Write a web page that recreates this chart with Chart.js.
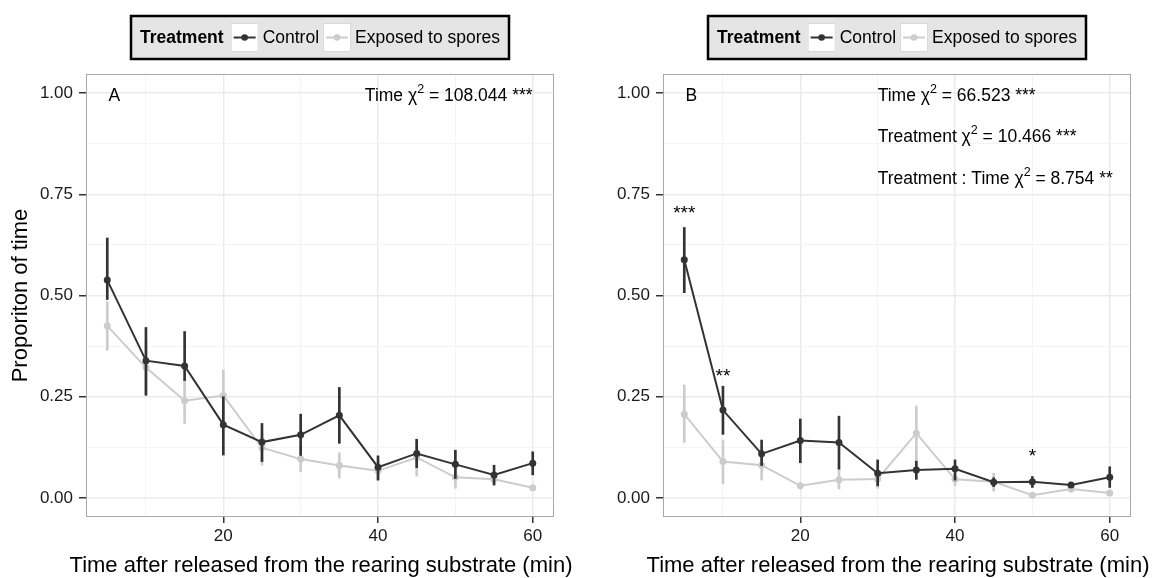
<!DOCTYPE html>
<html>
<head>
<meta charset="utf-8">
<title>Proportion of time after release</title>
<script src="https://cdn.jsdelivr.net/npm/chart.js@4.4.1/dist/chart.umd.min.js"></script>
<style>
  html, body { margin: 0; padding: 0; background: #fff; }
  #wrap { display: flex; width: 1154px; height: 578px; }
  canvas { display: block; }
</style>
</head>
<body>
<div id="wrap">
  <canvas id="panelA" width="577" height="578"></canvas>
  <canvas id="panelB" width="577" height="578"></canvas>
</div>
<script>
// sampling times (min)
const minutes = [5, 10, 15, 20, 25, 30, 35, 40, 45, 50, 55, 60];

// panel A
const ctrlA     = [0.538, 0.339, 0.326, 0.181, 0.138, 0.156, 0.204, 0.076, 0.110, 0.083, 0.057, 0.086];
const ctrlALow  = [0.490, 0.254, 0.290, 0.106, 0.090, 0.105, 0.135, 0.044, 0.075, 0.048, 0.032, 0.057];
const ctrlAHigh = [0.642, 0.421, 0.411, 0.250, 0.184, 0.207, 0.273, 0.104, 0.145, 0.118, 0.081, 0.114];
const sporeA     = [0.425, 0.322, 0.240, 0.253, 0.124, 0.096, 0.080, 0.067, 0.100, 0.051, 0.046, 0.025];
const sporeALow  = [0.365, 0.252, 0.184, 0.184, 0.081, 0.065, 0.049, 0.045, 0.054, 0.024, 0.032, 0.020];
const sporeAHigh = [0.485, 0.390, 0.296, 0.316, 0.160, 0.130, 0.112, 0.090, 0.145, 0.078, 0.060, 0.030];

// panel B
const ctrlB     = [0.588, 0.217, 0.109, 0.142, 0.137, 0.061, 0.069, 0.072, 0.039, 0.040, 0.032, 0.051];
const ctrlBLow  = [0.507, 0.157, 0.080, 0.087, 0.071, 0.030, 0.046, 0.044, 0.028, 0.026, 0.027, 0.026];
const ctrlBHigh = [0.668, 0.276, 0.143, 0.195, 0.202, 0.094, 0.091, 0.094, 0.050, 0.053, 0.037, 0.077];
const sporeB     = [0.207, 0.090, 0.081, 0.030, 0.045, 0.047, 0.160, 0.046, 0.040, 0.007, 0.022, 0.012];
const sporeBLow  = [0.137, 0.035, 0.044, 0.025, 0.022, 0.024, 0.093, 0.030, 0.017, 0.005, 0.014, 0.009];
const sporeBHigh = [0.279, 0.143, 0.118, 0.035, 0.070, 0.070, 0.227, 0.062, 0.061, 0.010, 0.030, 0.015];

// axis breaks
const xMajor = [20, 40, 60];
const xMinor = [10, 30, 50];
const yMajor = [0, 0.25, 0.5, 0.75, 1];
const yMinor = [0.125, 0.375, 0.625, 0.875];

// model test results printed in each panel
const statsA = [{ term: 'Time', chi: '108.044', stars: '***' }];
const statsB = [
  { term: 'Time', chi: '66.523', stars: '***' },
  { term: 'Treatment', chi: '10.466', stars: '***' },
  { term: 'Treatment : Time', chi: '8.754', stars: '**' }
];
const statsAx = 38.3;
const statsBx = 30;
const statsY = [0.981, 0.878, 0.775];

// pairwise differences per time point (panel B)
const sigB = [
  { x: 5, y: 0.689, label: '***' },
  { x: 10, y: 0.287, label: '**' },
  { x: 50, y: 0.089, label: '*' }
];

const X_TITLE = 'Time after released from the rearing substrate (min)';
const FONT = "'Liberation Sans', Arial, Helvetica, sans-serif";
const DARK = '#333333';
const LIGHT = '#cccccc';
const TEXT = '#1a1a1a';

Chart.defaults.font.family = FONT;
Chart.defaults.color = TEXT;

const toXY = vals => minutes.map((m, i) => ({ x: m, y: vals[i] }));
const toRange = (lo, hi) => minutes.map((m, i) => ({ x: m, y: [lo[i], hi[i]] }));

function drawStat(ctx, x, y, s) {
    let cx = x;
    const put = (txt, size, dy) => {
        ctx.font = `${size}px ${FONT}`;
        ctx.fillText(txt, cx, y + dy);
        cx += ctx.measureText(txt).width;
    };
    put(s.term + ' ', 17.5, 0);
    put('\u03C7', 17.5, 0);
    put('2', 12.5, -8);
    put(' = ' + s.chi + ' ' + s.stars, 17.5, 0);
}

function drawLegend(ctx, centerX) {
    const top = 16, h = 43, midY = top + h / 2;
    const items = [{ label: 'Control', color: DARK }, { label: 'Exposed to spores', color: LIGHT }];

    ctx.font = `bold 17.5px ${FONT}`;
    const titleW = ctx.measureText('Treatment').width;
    ctx.font = `17.5px ${FONT}`;
    const widths = items.map(it => ctx.measureText(it.label).width);
    const keyW = 28, pad = 9;
    const total = pad + titleW + 7 + widths.reduce((a, w) => a + keyW + 4 + w + 4, 0) - 4 + pad;
    const left = Math.round(centerX - total / 2);

    ctx.fillStyle = '#e5e5e5';
    ctx.fillRect(left, top, total, h);
    ctx.lineWidth = 2.5;
    ctx.strokeStyle = '#000';
    ctx.strokeRect(left, top, total, h);

    ctx.textBaseline = 'middle';
    ctx.textAlign = 'left';
    ctx.fillStyle = '#000';
    ctx.font = `bold 17.5px ${FONT}`;
    ctx.fillText('Treatment', left + pad, midY + 1);

    let x = left + pad + titleW + 7;
    items.forEach((it, i) => {
        ctx.fillStyle = '#fff';
        ctx.fillRect(x, top + 7, keyW, h - 14);
        ctx.lineWidth = 1;
        ctx.strokeStyle = '#d9d9d9';
        ctx.strokeRect(x + 0.5, top + 7.5, keyW - 1, h - 15);
        ctx.strokeStyle = it.color;
        ctx.lineWidth = 2;
        ctx.beginPath();
        ctx.moveTo(x + 3, midY);
        ctx.lineTo(x + keyW - 3, midY);
        ctx.stroke();
        ctx.fillStyle = it.color;
        ctx.beginPath();
        ctx.arc(x + keyW / 2, midY, 3.3, 0, Math.PI * 2);
        ctx.fill();
        x += keyW + 4;
        ctx.fillStyle = '#000';
        ctx.font = `17.5px ${FONT}`;
        ctx.fillText(it.label, x, midY + 1);
        x += widths[i] + 4;
    });
}

const panelDecor = {
    id: 'panelDecor',
    afterDraw(chart, args, opts) {
        const { ctx, chartArea: a, scales: { x, y } } = chart;
        ctx.save();

        // panel frame
        ctx.strokeStyle = '#a8a8a8';
        ctx.lineWidth = 1;
        ctx.strokeRect(a.left + 0.5, a.top + 0.5, a.width - 1, a.height - 1);

        // x axis title, wider than the panel so it is drawn here unclipped
        ctx.fillStyle = '#000';
        ctx.textAlign = 'center';
        ctx.textBaseline = 'alphabetic';
        ctx.font = `22px ${FONT}`;
        ctx.fillText(X_TITLE, (a.left + a.right) / 2 + 1, 572);

        // panel letter
        ctx.font = `17.5px ${FONT}`;
        ctx.fillText(opts.letter, x.getPixelForValue(5.9), y.getPixelForValue(statsY[0]));

        // chi-square results
        ctx.textAlign = 'left';
        opts.stats.forEach((s, i) => {
            drawStat(ctx, x.getPixelForValue(opts.statsX), y.getPixelForValue(statsY[i]), s);
        });

        // significance marks
        ctx.textAlign = 'center';
        ctx.font = `19px ${FONT}`;
        opts.sig.forEach(s => {
            ctx.fillText(s.label, x.getPixelForValue(s.x), y.getPixelForValue(s.y));
        });

        drawLegend(ctx, (a.left + a.right) / 2);
        ctx.restore();
    }
};

function buildPanel(canvasId, d) {
    return new Chart(document.getElementById(canvasId), {
        type: 'line',
        data: {
            datasets: [
                { type: 'line', label: 'Control', data: toXY(d.ctrl), borderColor: DARK, backgroundColor: DARK,
                  borderWidth: 2, pointRadius: 3.5, pointBorderWidth: 0, tension: 0, order: 1 },
                { type: 'bar', label: 'Control CI', data: toRange(d.ctrlLow, d.ctrlHigh), backgroundColor: DARK,
                  barThickness: 2, grouped: false, order: 2 },
                { type: 'line', label: 'Exposed to spores', data: toXY(d.spore), borderColor: LIGHT, backgroundColor: LIGHT,
                  borderWidth: 2, pointRadius: 3.5, pointBorderWidth: 0, tension: 0, order: 3 },
                { type: 'bar', label: 'Exposed CI', data: toRange(d.sporeLow, d.sporeHigh), backgroundColor: LIGHT,
                  barThickness: 2, grouped: false, order: 4 }
            ]
        },
        options: {
            responsive: false,
            animation: false,
            events: [],
            layout: { padding: { left: 0, right: 23, top: 74, bottom: 0 } },
            scales: {
                x: {
                    type: 'linear', min: 2.25, max: 62.75, offset: false,
                    afterBuildTicks: s => { s.ticks = [...xMinor, ...xMajor].sort((p, q) => p - q).map(v => ({ value: v })); },
                    afterFit: s => { s.height = 61; },
                    ticks: { autoSkip: false, maxRotation: 0, padding: 3, color: TEXT, font: { size: 17 },
                             callback: v => xMajor.includes(v) ? String(v) : '' },
                    grid: {
                        offset: false,
                        color: c => xMajor.includes(c.tick.value) ? '#ebebeb' : '#f4f4f4',
                        lineWidth: c => xMajor.includes(c.tick.value) ? 1.5 : 1,
                        tickColor: c => xMajor.includes(c.tick.value) ? DARK : 'rgba(0,0,0,0)',
                        tickLength: 6, tickWidth: 1.5
                    },
                    border: { display: false },
                    title: { display: false }
                },
                y: {
                    min: -0.047, max: 1.047,
                    afterBuildTicks: s => { s.ticks = [...yMajor, ...yMinor].sort((p, q) => p - q).map(v => ({ value: v })); },
                    afterFit: s => { s.width = 86; },
                    ticks: { autoSkip: false, padding: 6, color: TEXT, font: { size: 17 },
                             callback: v => yMajor.includes(v) ? v.toFixed(2) : '' },
                    grid: {
                        color: c => yMajor.includes(c.tick.value) ? '#ebebeb' : '#f4f4f4',
                        lineWidth: c => yMajor.includes(c.tick.value) ? 1.5 : 1,
                        tickColor: c => yMajor.includes(c.tick.value) ? DARK : 'rgba(0,0,0,0)',
                        tickLength: 7, tickWidth: 1.5
                    },
                    border: { display: false },
                    title: { display: d.yTitle, text: 'Proporiton of time', color: '#000',
                             font: { size: 22 }, padding: { top: 8, bottom: 0 } }
                }
            },
            plugins: {
                legend: { display: false },
                tooltip: { enabled: false },
                panelDecor: { letter: d.letter, stats: d.stats, statsX: d.statsX, sig: d.sig }
            }
        },
        plugins: [panelDecor]
    });
}

buildPanel('panelA', {
    ctrl: ctrlA, ctrlLow: ctrlALow, ctrlHigh: ctrlAHigh,
    spore: sporeA, sporeLow: sporeALow, sporeHigh: sporeAHigh,
    letter: 'A', stats: statsA, statsX: statsAx, sig: [], yTitle: true
});
buildPanel('panelB', {
    ctrl: ctrlB, ctrlLow: ctrlBLow, ctrlHigh: ctrlBHigh,
    spore: sporeB, sporeLow: sporeBLow, sporeHigh: sporeBHigh,
    letter: 'B', stats: statsB, statsX: statsBx, sig: sigB, yTitle: false
});
</script>
</body>
</html>
